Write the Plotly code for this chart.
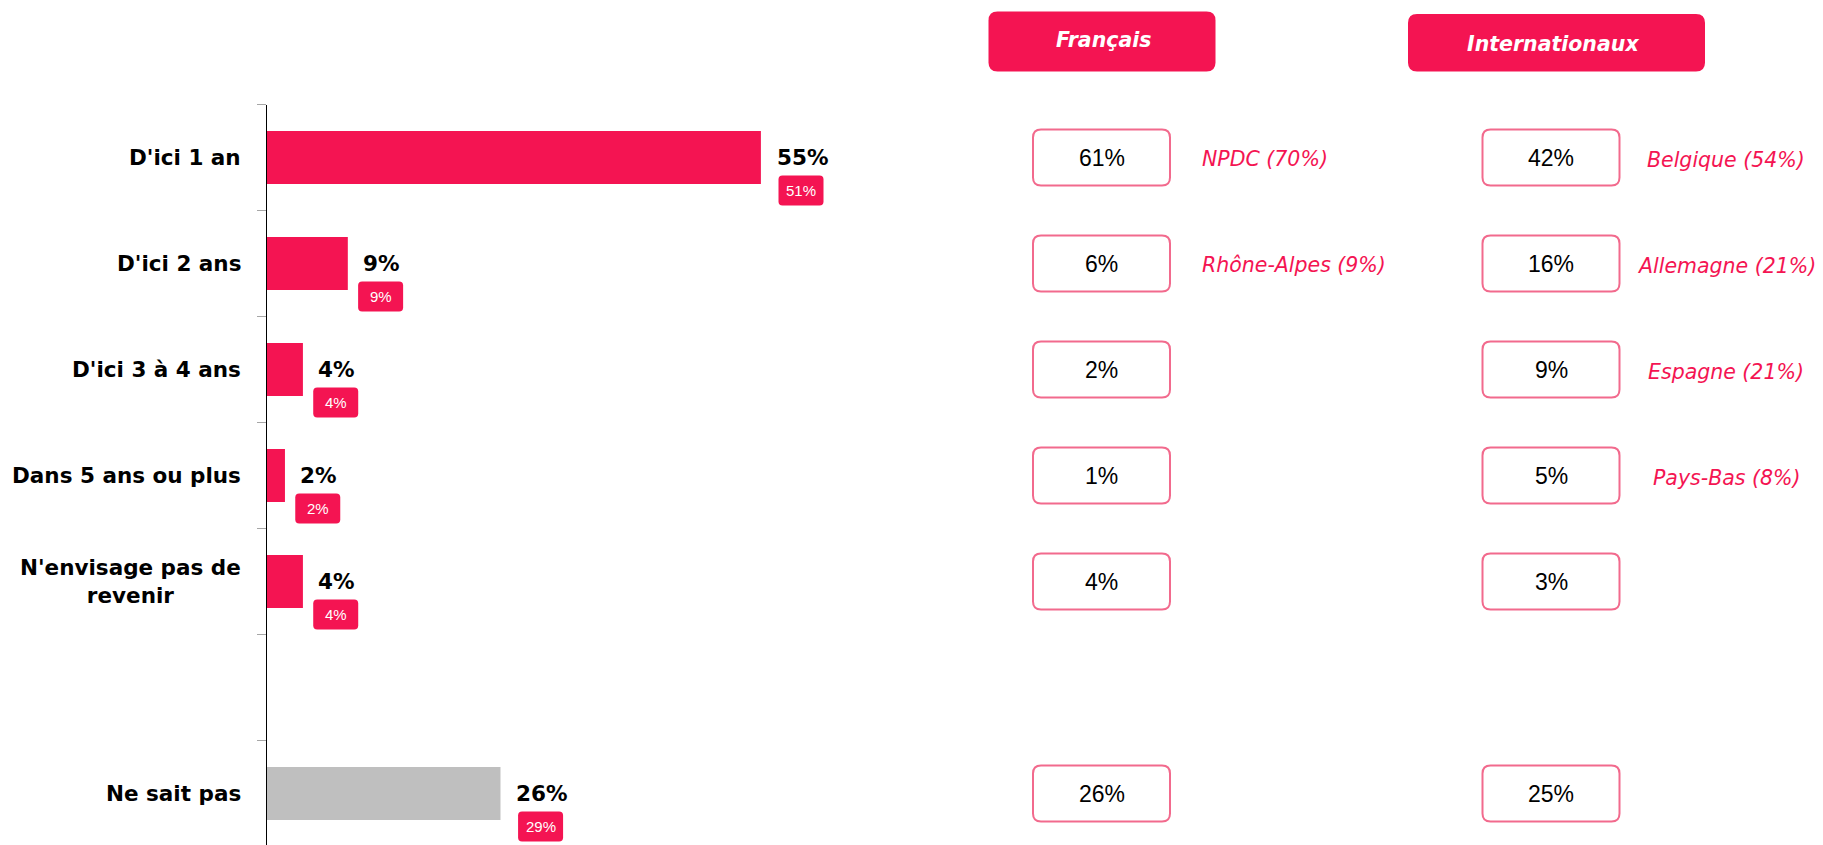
import plotly.graph_objects as go

W, H = 1823, 845

# ---- data -------------------------------------------------------------
categories = ["D'ici 1 an", "D'ici 2 ans", "D'ici 3 à 4 ans", "Dans 5 ans ou plus",
              "N'envisage pas de<br>revenir", "", "Ne sait pas"]
total = [55, 9, 4, 2, 4, None, 26]
previous = [51, 9, 4, 2, 4, None, 29]
francais = [61, 6, 2, 1, 4, None, 26]
internationaux = [42, 16, 9, 5, 3, None, 25]
francais_top = ["NPDC (70%)", "Rhône-Alpes (9%)", "", "", "", "", ""]
internationaux_top = ["Belgique (54%)", "Allemagne (21%)", "Espagne (21%)",
                      "Pays-Bas (8%)", "", "", ""]
headers = ["Français", "Internationaux"]

# ---- style ------------------------------------------------------------
PINK = "#F41452"
GREY = "#BFBFBF"
BORDER = "#F26A8D"
BOLD = "DejaVu Sans"
NARROW = "Liberation Sans Narrow, Arial Narrow, Liberation Sans, sans-serif"


def px(x):
    return x / W


def py(y):
    return 1 - y / H


def rounded(cx, cy, w, h, r):
    x0, x1 = cx - w / 2, cx + w / 2
    y0, y1 = cy - h / 2, cy + h / 2
    return (f"M{x0 + r},{y0} L{x1 - r},{y0} Q{x1},{y0} {x1},{y0 + r} "
            f"L{x1},{y1 - r} Q{x1},{y1} {x1 - r},{y1} L{x0 + r},{y1} "
            f"Q{x0},{y1} {x0},{y1 - r} L{x0},{y0 + r} Q{x0},{y0} {x0 + r},{y0} Z")


ypos = list(range(len(categories)))
colors = [GREY if c == "Ne sait pas" else PINK for c in categories]

fig = go.Figure()
fig.add_trace(go.Bar(
    x=total, y=ypos, orientation="h", width=0.5,
    marker=dict(color=colors, line=dict(width=0)),
    hoverinfo="skip",
))

annotations = []
shapes = []

# category labels
for i, cat in enumerate(categories):
    if cat:
        annotations.append(dict(
            xref="paper", x=px(267), xanchor="right", xshift=-24,
            yref="y", y=i, text=cat, showarrow=False, align="center",
            font=dict(family=BOLD, size=21.5, color="black", weight="bold"),
        ))

# value labels and previous-wave badges
for i, (v, p) in enumerate(zip(total, previous)):
    if v is None:
        continue
    txt = f"{v}%"
    w = 14.6 * len(str(v)) + 21
    shift = 16 + w / 2
    annotations.append(dict(
        xref="x", x=v, xanchor="center", xshift=shift,
        yref="y", y=i, text=txt, showarrow=False,
        font=dict(family=BOLD, size=21.5, color="black", weight="bold"),
    ))
    shapes.append(dict(
        type="path", xref="x", xsizemode="pixel", xanchor=v,
        yref="y", ysizemode="pixel", yanchor=i,
        path=rounded(shift - 1, -33, 45, 30, 4),
        fillcolor=PINK, line=dict(width=0), layer="above",
    ))
    annotations.append(dict(
        xref="x", x=v, xanchor="center", xshift=shift - 1,
        yref="y", y=i, yshift=-33, text=f"{p}%", showarrow=False,
        font=dict(family=NARROW, size=15, color="white"),
    ))

# group columns
for cx, vals in [(1101.5, francais), (1551, internationaux)]:
    for i, v in enumerate(vals):
        if v is None:
            continue
        shapes.append(dict(
            type="path", xref="paper", xsizemode="pixel", xanchor=px(cx),
            yref="y", ysizemode="pixel", yanchor=i,
            path=rounded(0, 0, 137, 56, 8),
            fillcolor="white", line=dict(color=BORDER, width=2),
        ))
        annotations.append(dict(
            xref="paper", x=px(cx), xanchor="center",
            yref="y", y=i, text=f"{v}%", showarrow=False,
            font=dict(family=NARROW, size=23, color="black"),
        ))

# top regions / countries
for i, t in enumerate(francais_top):
    if t:
        annotations.append(dict(
            xref="paper", x=px(1200), xanchor="left",
            yref="y", y=i, yshift=-1, text=t, showarrow=False,
            font=dict(family="DejaVu Sans", size=20.5, color=PINK, style="italic"),
        ))
for i, t in enumerate(internationaux_top):
    if t:
        annotations.append(dict(
            xref="paper", x=px(1726), xanchor="center",
            yref="y", y=i, yshift=-2, text=t, showarrow=False,
            font=dict(family="DejaVu Sans", size=20.5, color=PINK, style="italic"),
        ))

# column headers
header_boxes = [(1102, 41.5, 227, 60), (1556.5, 42.75, 297, 57.5)]
header_text = [(1104, 39.5), (1553, 44)]
for name, (cx, cy, bw, bh), (tx, ty) in zip(headers, header_boxes, header_text):
    shapes.append(dict(
        type="path", xref="paper", xsizemode="pixel", xanchor=px(cx),
        yref="paper", ysizemode="pixel", yanchor=py(cy),
        path=rounded(0, 0, bw, bh, 9),
        fillcolor=PINK, line=dict(width=0),
    ))
    annotations.append(dict(
        xref="paper", x=px(tx), xanchor="center",
        yref="paper", y=py(ty), yanchor="middle", text=name, showarrow=False,
        font=dict(family="DejaVu Sans", size=20.5, color="white",
                  weight="bold", style="italic"),
    ))

plot_top = 104.6
slot = 106.0
fig.update_layout(
    width=W, height=H,
    margin=dict(l=0, r=0, t=0, b=0),
    paper_bgcolor="white", plot_bgcolor="white",
    showlegend=False,
    xaxis=dict(domain=[px(267), px(960)], range=[0, (960 - 267) / 8.98],
               visible=False, fixedrange=True),
    yaxis=dict(domain=[0, py(plot_top)],
               range=[-0.5 + (H - plot_top) / slot, -0.5],
               showline=True, linecolor="black", linewidth=1.3,
               tickmode="array", tickvals=[i - 0.5 for i in range(len(categories))],
               ticks="outside", ticklen=9, tickcolor="#A6A6A6", tickwidth=1,
               showticklabels=False, showgrid=False, zeroline=False,
               fixedrange=True),
    annotations=annotations,
    shapes=shapes,
)

fig.write_html("out.html")
